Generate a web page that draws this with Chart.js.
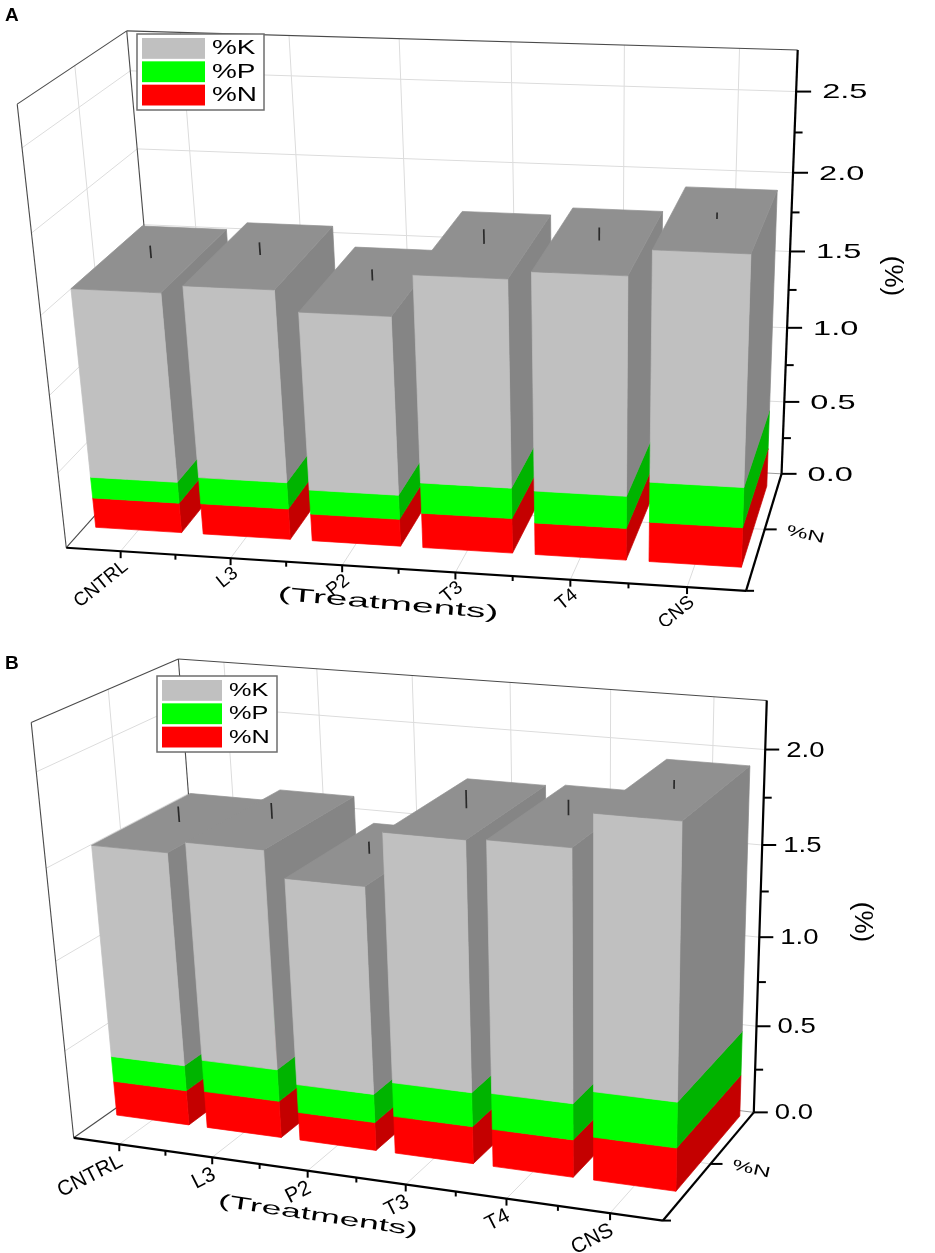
<!DOCTYPE html>
<html>
<head>
<meta charset="utf-8">
<title>N, P, K content by treatment</title>
<script src="https://cdn.jsdelivr.net/npm/chart.js@4.4.1/dist/chart.umd.min.js"></script>
<style>
  html, body { margin: 0; padding: 0; background: #fff; }
  #page { position: relative; width: 935px; height: 1253px; overflow: hidden; }
  canvas { position: absolute; left: 0; }
  #chartA { top: 0; }
  #chartB { top: 626px; }
  .tag { position: absolute; left: 5px; font: bold 19px "Liberation Sans", Arial, sans-serif; }
</style>
</head>
<body>
<div id="page">
  <canvas id="chartA" width="935" height="626"></canvas>
  <canvas id="chartB" width="935" height="627"></canvas>
  <div class="tag" style="top:4px">A</div>
  <div class="tag" style="top:652px">B</div>
</div>
<script>
const categories = ['CNTRL', 'L3', 'P2', 'T3', 'T4', 'CNS'];

// panel A
const nitrogenA   = [0.20, 0.205, 0.18, 0.23, 0.21, 0.26];
const phosphorusA = [0.14, 0.175, 0.16, 0.20, 0.21, 0.26];
const potassiumA  = [1.22, 1.23, 1.14, 1.31, 1.37, 1.43];
const errorA      = [0.08, 0.08, 0.07, 0.09, 0.08, 0.04];
const yTicksA = [0, 0.5, 1.0, 1.5, 2.0, 2.5];
const yMaxA = 2.75;

// panel B
const nitrogenB   = [0.20, 0.21, 0.16, 0.21, 0.21, 0.24];
const phosphorusB = [0.145, 0.18, 0.16, 0.19, 0.20, 0.25];
const potassiumB  = [1.18, 1.20, 1.13, 1.34, 1.34, 1.44];
const errorB      = [0.085, 0.085, 0.065, 0.095, 0.08, 0.045];
const yTicksB = [0, 0.5, 1.0, 1.5, 2.0];
const yMaxB = 2.25;

const FONT = '"Liberation Sans", Arial, sans-serif';
const COLORS = {
  N: { front: '#ff0000', side: '#c40000' },
  P: { front: '#00ff00', side: '#00b400' },
  K: { front: '#c0c0c0', side: '#858585', top: '#909090' }
};

// fit a pinhole camera (DLT) from box corners / axis ticks seen in the figure.
// world: u across treatments 0..1, v up the value axis 0..1, z into the depth 0..1
function fitCamera(pairs, W, H) {
  const cx = W / 2, cy = H / 2, s = W / 2;
  const A = [], b = [];
  pairs.forEach(([X, Y, Z, px, py]) => {
    const x = (px - cx) / s, y = (py - cy) / s;
    A.push([X, Y, Z, 1, 0, 0, 0, 0, -x * X, -x * Y, -x * Z]); b.push(x);
    A.push([0, 0, 0, 0, X, Y, Z, 1, -y * X, -y * Y, -y * Z]); b.push(y);
  });
  const n = 11, M = [];
  for (let i = 0; i < n; i++) {
    M.push(new Array(n + 1).fill(0));
    for (let k = 0; k < A.length; k++) {
      for (let j = 0; j < n; j++) M[i][j] += A[k][i] * A[k][j];
      M[i][n] += A[k][i] * b[k];
    }
  }
  for (let c = 0; c < n; c++) {
    let piv = c;
    for (let r = c + 1; r < n; r++) if (Math.abs(M[r][c]) > Math.abs(M[piv][c])) piv = r;
    [M[c], M[piv]] = [M[piv], M[c]];
    for (let r = 0; r < n; r++) {
      if (r === c) continue;
      const f = M[r][c] / M[c][c];
      for (let j = c; j <= n; j++) M[r][j] -= f * M[c][j];
    }
  }
  const p = M.map((row, i) => row[n] / row[i]);
  return (X, Y, Z) => {
    const w = p[8] * X + p[9] * Y + p[10] * Z + 1;
    return [cx + s * (p[0] * X + p[1] * Y + p[2] * Z + p[3]) / w,
            cy + s * (p[4] * X + p[5] * Y + p[6] * Z + p[7]) / w];
  };
}

function line(ctx, a, b, color, lw) {
  ctx.beginPath();
  ctx.moveTo(a[0], a[1]);
  ctx.lineTo(b[0], b[1]);
  ctx.strokeStyle = color;
  ctx.lineWidth = lw;
  ctx.stroke();
}

function face(ctx, pts, fill) {
  ctx.beginPath();
  ctx.moveTo(pts[0][0], pts[0][1]);
  for (let i = 1; i < pts.length; i++) ctx.lineTo(pts[i][0], pts[i][1]);
  ctx.closePath();
  ctx.fillStyle = fill;
  ctx.fill();
  ctx.strokeStyle = fill;
  ctx.lineWidth = 0.7;
  ctx.stroke();
}

// text that is widened the way the figure's lettering is
function wideText(ctx, str, x, y, opt) {
  ctx.save();
  ctx.translate(x, y);
  if (opt.angle) ctx.rotate(opt.angle * Math.PI / 180);
  ctx.scale(opt.sx || 1, 1);
  ctx.font = opt.size + 'px ' + FONT;
  ctx.textAlign = opt.align || 'left';
  ctx.textBaseline = 'middle';
  ctx.fillStyle = '#000';
  ctx.fillText(str, 0, 0);
  ctx.restore();
}

function makeBox3d(cfg) {
  let P = null;
  return {
    id: 'box3d',
    // the flat bars are replaced by the projected boxes below
    beforeDatasetsDraw() { return false; },
    afterDraw(chart) {
      const ctx = chart.ctx, ca = chart.chartArea;
      const xs = chart.scales.x, ys = chart.scales.y;
      if (!P) P = fitCamera(cfg.calib, chart.width, chart.height);
      const U = px => (px - ca.left) / (ca.right - ca.left);
      const V = py => (ca.bottom - py) / (ca.bottom - ca.top);
      const centers = categories.map((c, i) => U(xs.getPixelForValue(i)));
      const grid = '#dcdcdc', edge = '#4a4a4a';
      ctx.save();

      // walls and floor
      cfg.yTicks.forEach(t => {
        if (t === 0) return;
        const v = V(ys.getPixelForValue(t));
        line(ctx, P(0, v, 1), P(1, v, 1), grid, 1);
        line(ctx, P(0, v, 0), P(0, v, 1), grid, 1);
      });
      centers.forEach(u => {
        line(ctx, P(u, 0, 1), P(u, 1, 1), grid, 1);
        line(ctx, P(u, 0, 0), P(u, 0, 1), grid, 1);
      });
      line(ctx, P(0, 0, 0.5), P(0, 1, 0.5), grid, 1);
      line(ctx, P(0, 0, 0.5), P(1, 0, 0.5), grid, 1);
      line(ctx, P(0, 0, 1), P(1, 0, 1), '#9a9a9a', 1);
      line(ctx, P(0, 1, 0), P(0, 1, 1), edge, 1.1);
      line(ctx, P(0, 1, 1), P(1, 1, 1), edge, 1.1);
      line(ctx, P(0, 0, 0), P(0, 1, 0), edge, 1.1);
      line(ctx, P(0, 0, 1), P(0, 1, 1), edge, 1.1);
      line(ctx, P(0, 0, 0), P(0, 0, 1), edge, 1.1);

      // stacked 3D columns, far (left) to near (right)
      const keys = ['N', 'P', 'K'];
      const [z0, z1] = cfg.depth;
      categories.forEach((c, i) => {
        let topV = 0, u0 = 0, u1 = 0, total = 0;
        keys.forEach((key, d) => {
          const el = chart.getDatasetMeta(d).data[i];
          u0 = U(el.x - el.width / 2); u1 = U(el.x + el.width / 2);
          const v0 = V(el.base), v1 = V(el.y);
          face(ctx, [P(u1, v0, z0), P(u1, v0, z1), P(u1, v1, z1), P(u1, v1, z0)], COLORS[key].side);
          face(ctx, [P(u0, v0, z0), P(u1, v0, z0), P(u1, v1, z0), P(u0, v1, z0)], COLORS[key].front);
          topV = v1;
          total += chart.data.datasets[d].data[i];
        });
        face(ctx, [P(u0, topV, z0), P(u1, topV, z0), P(u1, topV, z1), P(u0, topV, z1)], COLORS.K.top);
        const uc = (u0 + u1) / 2, zc = (z0 + z1) / 2;
        const vErr = V(ys.getPixelForValue(total + cfg.errors[i]));
        line(ctx, P(uc, topV, zc), P(uc, vErr, zc), '#2a2a2a', 1.7);
      });

      // value axis at the back right corner
      line(ctx, P(1, 0, 1), P(1, 1, 1), '#000', 2.2);
      cfg.yTicks.forEach(t => {
        const p = P(1, V(ys.getPixelForValue(t)), 1);
        line(ctx, p, [p[0] + cfg.majorLen, p[1]], '#000', 2);
        wideText(ctx, t.toFixed(1), p[0] + cfg.labelGap, p[1] + 1, { size: cfg.tickFont, sx: cfg.tickStretch });
        const m = t + 0.25;
        if (m < cfg.yMax) {
          const q = P(1, V(ys.getPixelForValue(m)), 1);
          line(ctx, q, [q[0] + 8, q[1]], '#000', 2);
        }
      });
      wideText(ctx, '(%)', cfg.yTitle[0], cfg.yTitle[1], { size: 26, angle: 90, align: 'center' });

      // treatment axis along the front of the floor
      line(ctx, P(0, 0, 0), P(1, 0, 0), '#000', 2.2);
      centers.forEach((u, i) => {
        const p = P(u, 0, 0);
        line(ctx, p, [p[0], p[1] + 7], '#000', 2);
        if (i > 0) {
          const q = P(i / categories.length, 0, 0);
          line(ctx, q, [q[0], q[1] + 5], '#000', 2);
        }
        wideText(ctx, categories[i], p[0] + cfg.xLabelOff[0], p[1] + cfg.xLabelOff[1],
          { size: cfg.xLabelFont, angle: -cfg.xLabelAngle, align: 'right' });
      });
      wideText(ctx, '(Treatments)', cfg.xTitle.x, cfg.xTitle.y,
        { size: cfg.xTitle.size, angle: cfg.xTitle.angle, sx: cfg.xTitle.stretch, align: 'center' });

      // depth axis on the right of the floor
      line(ctx, P(1, 0, 0), P(1, 0, 1), '#000', 2.2);
      const d0 = P(1, 0, 0), dm = P(1, 0, 0.5);
      line(ctx, d0, [d0[0] + 8, d0[1]], '#000', 2);
      line(ctx, dm, [dm[0] + 12, dm[1]], '#000', 2);
      wideText(ctx, '%N', dm[0] + 22, dm[1] + 1, { size: 15, angle: 13, sx: 1.6 });

      // legend inside the back wall, top item first
      const lg = cfg.legend;
      ctx.fillStyle = '#fff';
      ctx.fillRect(lg.x, lg.y, lg.w, lg.h);
      ctx.strokeStyle = '#6e6e6e';
      ctx.lineWidth = 1.5;
      ctx.strokeRect(lg.x, lg.y, lg.w, lg.h);
      const items = chart.data.datasets.slice().reverse();
      const rowH = (lg.h - 6) / items.length;
      items.forEach((ds, r) => {
        const y = lg.y + 3 + r * rowH;
        ctx.fillStyle = ds.backgroundColor;
        ctx.fillRect(lg.x + 5, y + 1, lg.sw, rowH - 2.5);
        wideText(ctx, ds.label, lg.x + lg.sw + 12, y + rowH / 2, { size: lg.font, sx: 1.33 });
      });
      ctx.restore();
    }
  };
}

function buildChart(id, n, p, k, yMax, cfg) {
  return new Chart(document.getElementById(id), {
    type: 'bar',
    data: {
      labels: categories,
      datasets: [
        { label: '%N', data: n, backgroundColor: COLORS.N.front },
        { label: '%P', data: p, backgroundColor: COLORS.P.front },
        { label: '%K', data: k, backgroundColor: COLORS.K.front }
      ]
    },
    options: {
      responsive: false,
      animation: false,
      events: [],
      layout: { padding: 0 },
      datasets: { bar: { categoryPercentage: 1, barPercentage: 0.8 } },
      scales: {
        x: { stacked: true, display: false },
        y: { stacked: true, display: false, min: 0, max: yMax }
      },
      plugins: { legend: { display: false }, tooltip: { enabled: false } }
    },
    plugins: [makeBox3d(cfg)]
  });
}

const tickU = i => (i + 0.5) / categories.length;

buildChart('chartA', nitrogenA, phosphorusA, potassiumA, yMaxA, {
  yTicks: yTicksA, yMax: yMaxA, errors: errorA, depth: [0.18, 0.88],
  calib: [
    [0, 0, 0, 67, 547], [1, 0, 0, 745, 592], [1, 0, 1, 781, 473],
    [1, 1, 1, 798, 50], [0, 1, 1, 126, 31], [0, 1, 0, 18, 103],
    [1, 0.5 / yMaxA, 1, 784, 402], [1, 1.0 / yMaxA, 1, 787, 328], [1, 1.5 / yMaxA, 1, 790, 252],
    [1, 2.0 / yMaxA, 1, 793, 173], [1, 2.5 / yMaxA, 1, 796, 92],
    [tickU(0), 0, 0, 120, 552], [tickU(1), 0, 0, 232, 559], [tickU(2), 0, 0, 342, 566],
    [tickU(3), 0, 0, 453, 572], [tickU(4), 0, 0, 570, 580], [tickU(5), 0, 0, 687, 586],
    [1, 0, 0.5, 768, 528]
  ],
  tickFont: 21, tickStretch: 1.55, majorLen: 15, labelGap: 26,
  yTitle: [892, 276],
  xLabelFont: 19, xLabelAngle: 39, xLabelOff: [5, 13],
  xTitle: { x: 388, y: 604, angle: 5, size: 19, stretch: 2.05 },
  legend: { x: 137, y: 34, w: 127, h: 76, sw: 63, font: 21 }
});

buildChart('chartB', nitrogenB, phosphorusB, potassiumB, yMaxB, {
  yTicks: yTicksB, yMax: yMaxB, errors: errorB, depth: [0.24, 0.95],
  calib: [
    [0, 0, 0, 75, 512], [1, 0, 0, 663, 595], [1, 0, 1, 753, 485],
    [1, 1, 1, 767, 74], [0, 1, 1, 178, 32], [0, 1, 0, 32, 96],
    [1, 0.5 / yMaxB, 1, 756, 402], [1, 1.0 / yMaxB, 1, 759, 312],
    [1, 1.5 / yMaxB, 1, 762, 219], [1, 2.0 / yMaxB, 1, 765, 125],
    [tickU(0), 0, 0, 120, 518], [tickU(1), 0, 0, 212, 532], [tickU(2), 0, 0, 305, 547],
    [tickU(3), 0, 0, 405, 558], [tickU(4), 0, 0, 505, 572], [tickU(5), 0, 0, 610, 586],
    [1, 0, 0.5, 715, 536]
  ],
  tickFont: 22, tickStretch: 1.25, majorLen: 14, labelGap: 21,
  yTitle: [862, 296],
  xLabelFont: 21, xLabelAngle: 27, xLabelOff: [2, 16],
  xTitle: { x: 318, y: 590, angle: 8.5, size: 18, stretch: 1.97 },
  legend: { x: 157, y: 50, w: 120, h: 76, sw: 60, font: 19 }
});
</script>
</body>
</html>
